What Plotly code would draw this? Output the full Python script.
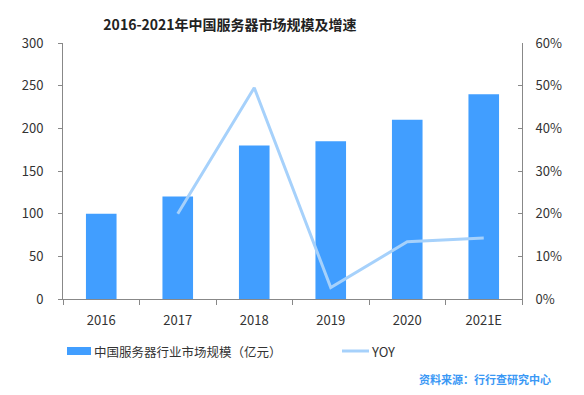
import plotly.graph_objects as go

years = ["2016", "2017", "2018", "2019", "2020", "2021E"]
market_size = [100, 120, 180, 185, 210, 240]
yoy_years = ["2017", "2018", "2019", "2020", "2021E"]
yoy = [0.20, 0.495, 0.027, 0.134, 0.143]

bar_name = "中国服务器行业市场规模（亿元）"
line_name = "YOY"
bar_color = "#419EFF"
line_color = "#A6D1FB"
font_family = "Noto Sans CJK SC, Noto Sans, sans-serif"

# plot-area pixel geometry (for placing legend / source text)
L, R, T, B = 63, 522, 43, 299


def px_x(p):
    return (p - L) / (R - L)


def px_y(p):
    return (B - p) / (B - T)


fig = go.Figure()
fig.add_trace(go.Bar(
    x=years, y=market_size, name=bar_name,
    marker=dict(color=bar_color, line=dict(width=0)), width=0.4,
))
fig.add_trace(go.Scatter(
    x=yoy_years, y=yoy, name=line_name, mode="lines", yaxis="y2",
    line=dict(color=line_color, width=3),
))

fig.update_layout(
    width=584, height=395,
    margin=dict(l=L, r=584 - R, t=T, b=395 - B),
    paper_bgcolor="white", plot_bgcolor="white",
    font=dict(family=font_family, size=13, color="#333333"),
    title=dict(text="<b>2016-2021年中国服务器市场规模及增速</b>",
               x=230 / 584, xanchor="center", y=1 - 25 / 395, yanchor="middle",
               font=dict(size=14, color="#222222")),
    showlegend=False,
    xaxis=dict(type="category", showline=True, linecolor="#888888", linewidth=1,
               ticks="outside", tickson="boundaries", ticklen=5, tickcolor="#888888",
               showgrid=False, tickfont=dict(size=13, color="#333333"),
               ticklabelstandoff=9),
    yaxis=dict(range=[0, 300], dtick=50, showline=True, linecolor="#888888",
               ticks="outside", ticklen=4, tickcolor="#888888", showgrid=False,
               zeroline=False, tickfont=dict(size=13, color="#333333"),
               ticklabelstandoff=12),
    yaxis2=dict(range=[0, 0.6], dtick=0.1, tickformat=".0%", overlaying="y",
                side="right", showline=True, linecolor="#888888", ticks="inside",
                ticklen=4, tickcolor="#888888", showgrid=False, zeroline=False,
                tickfont=dict(size=13, color="#333333"), ticklabelstandoff=10),
    bargap=0.6,
)

# legend drawn manually
fig.add_shape(type="rect", xref="paper", yref="paper",
              x0=px_x(67), x1=px_x(91), y0=px_y(347), y1=px_y(355),
              fillcolor=bar_color, line=dict(width=0))
fig.add_annotation(text=bar_name, xref="paper", yref="paper",
                   x=px_x(92), xanchor="left", y=px_y(351), yanchor="middle",
                   showarrow=False, font=dict(size=12.5, color="#333333"))
fig.add_shape(type="line", xref="paper", yref="paper",
              x0=px_x(342), x1=px_x(369), y0=px_y(351), y1=px_y(351),
              line=dict(color=line_color, width=3))
fig.add_annotation(text=line_name, xref="paper", yref="paper",
                   x=px_x(369), xanchor="left", y=px_y(351), yanchor="middle",
                   showarrow=False, font=dict(size=13, color="#333333"))

fig.add_annotation(text="<b>资料来源：行行查研究中心</b>", xref="paper", yref="paper",
                   x=px_x(553), xanchor="right", y=px_y(379), yanchor="middle",
                   showarrow=False, font=dict(size=11, color="#3A98F5"))

fig.write_html("out.html", config={"displayModeBar": False},
               post_script="document.body.style.margin='0';document.body.style.padding='0';")
